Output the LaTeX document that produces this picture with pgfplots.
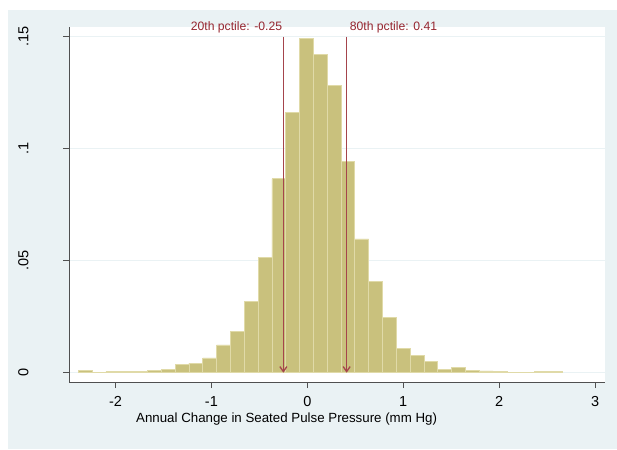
\documentclass[border=0pt]{standalone}
\usepackage{fontspec}
\setmainfont{Liberation Sans}
\usepackage{pgfplots}
\pgfplotsset{compat=1.18}
\usetikzlibrary{arrows.meta}
\definecolor{bgblue}{RGB}{234,242,244}
\definecolor{barfill}{RGB}{201,193,125}
\definecolor{baredge}{RGB}{224,218,168}
\definecolor{pctred}{RGB}{150,38,48}
\definecolor{pctline}{RGB}{165,68,76}
\definecolor{axgray}{RGB}{80,80,80}

\begin{document}
\begin{tikzpicture}
\fill[white] (-69pt,-67pt) rectangle (548pt,382pt);
\fill[bgblue] (-61pt,-67pt) rectangle (548pt,372pt);
\begin{axis}[
    at={(0,0)}, anchor=south west,
    scale only axis,
    width=536pt, height=355pt,
    xmin=-2.485, xmax=3.104,
    ymin=-0.00415, ymax=0.1543,
    clip=false,
    axis background/.style={fill=white},
    axis x line*=bottom, axis y line*=left,
    axis line style={axgray, line width=0.8pt},
    tick style={axgray, line width=0.8pt},
    tick align=outside,
    major tick length=6pt,
    xtick={-2,-1,0,1,2,3},
    ytick={0,0.05,0.1,0.15},
    yticklabels={0,.05,.1,.15},
    /pgf/number format/assume math mode=true,
    ticklabel style={font=\fontsize{14.5}{16}\selectfont},
    xticklabel style={yshift=-5pt},
    yticklabel style={xshift=-31pt, rotate=90, anchor=south},
    ymajorgrids,
    grid style={bgblue, line width=1pt},
    xlabel={Annual Change in Seated Pulse Pressure (mm Hg)},
    xlabel style={font=\fontsize{13.3}{16}\selectfont, at={(axis description cs:0.406,0)}, anchor=center, yshift=-37pt},
]
\addplot[ybar interval, fill=barfill, draw=baredge, line width=0.8pt] coordinates {
    (-2.3880,0.0009)
    (-2.2438,0)
    (-2.0996,0.00045)
    (-1.9554,0.0005)
    (-1.8112,0.0005)
    (-1.6670,0.0009)
    (-1.5228,0.0016)
    (-1.3786,0.0035)
    (-1.2344,0.0043)
    (-1.0902,0.0066)
    (-0.9460,0.0124)
    (-0.8018,0.0185)
    (-0.6576,0.0317)
    (-0.5134,0.0515)
    (-0.3692,0.0865)
    (-0.2250,0.1163)
    (-0.0808,0.1490)
    (0.0634,0.1421)
    (0.2076,0.1283)
    (0.3518,0.0941)
    (0.4960,0.0597)
    (0.6402,0.0408)
    (0.7844,0.0247)
    (0.9286,0.0110)
    (1.0728,0.0077)
    (1.2170,0.0052)
    (1.3612,0.0015)
    (1.5054,0.0024)
    (1.6496,0.0011)
    (1.7938,0.0008)
    (1.9380,0.0005)
    (2.0822,0)
    (2.2264,0)
    (2.3706,0.0006)
    (2.5148,0.0006)
    (2.6590,0)
};
\addplot[pctline, line width=1.3pt, -{Straight Barb[length=5pt,width=7pt]}] coordinates {(-0.25,0.15) (-0.25,0)};
\addplot[pctline, line width=1.3pt, -{Straight Barb[length=5pt,width=7pt]}] coordinates {(0.41,0.15) (0.41,0)};
\node[pctred, anchor=east, inner sep=1pt, font=\fontsize{12.2}{14}\selectfont] at (axis cs:-0.25,0.1543) {20th pctile: -0.25};
\node[pctred, anchor=west, inner sep=0pt, xshift=3pt, font=\fontsize{12.2}{14}\selectfont] at (axis cs:0.41,0.1543) {80th pctile: 0.41};
\end{axis}
\pgfresetboundingbox
\path[use as bounding box] (-69pt,-67pt) rectangle (548pt,382pt);
\end{tikzpicture}
\end{document}
